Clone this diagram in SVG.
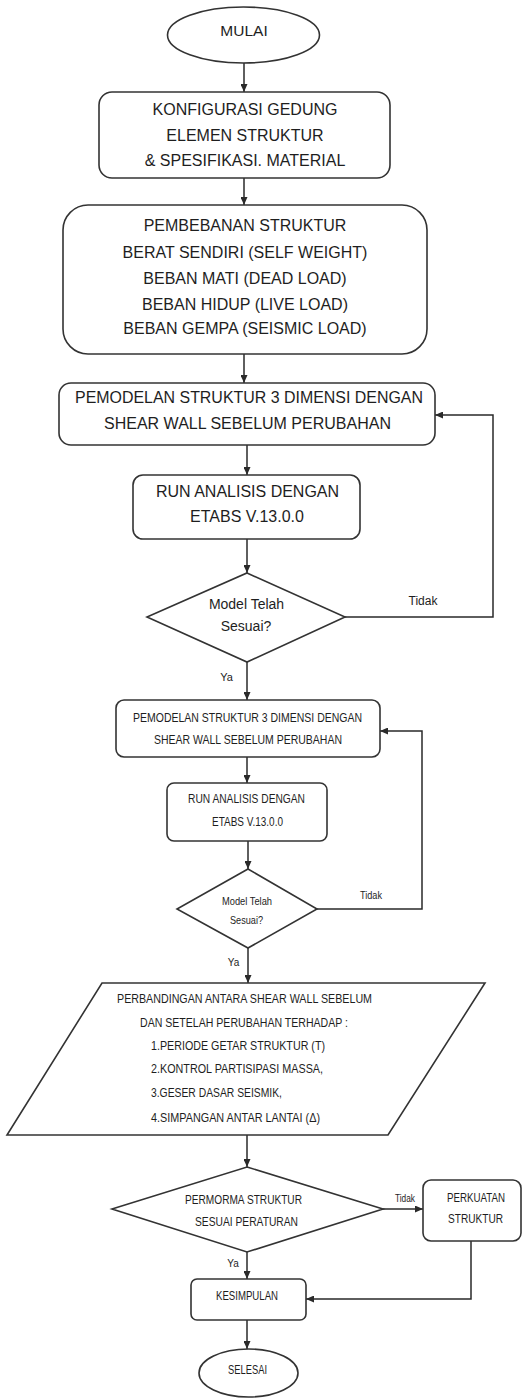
<svg xmlns="http://www.w3.org/2000/svg" width="523" height="1398" viewBox="0 0 523 1398">
<defs>
<marker id="arr" markerUnits="userSpaceOnUse" markerWidth="8" markerHeight="7" refX="8" refY="3.5" orient="auto"><path d="M0,0 L8,3.5 L0,7 z" fill="#2a2a2a"/></marker>
<style>
.sh{fill:#fff;stroke:#333;stroke-width:1.6}
.t{font-family:"Liberation Sans",Arial,sans-serif;fill:#1e1e1e;text-anchor:middle}
.tl{font-family:"Liberation Sans",Arial,sans-serif;fill:#1e1e1e;text-anchor:start}
.c{fill:none;stroke:#2a2a2a;stroke-width:1.5;marker-end:url(#arr)}
</style>
</defs>
<rect width="523" height="1398" fill="#fff"/>
<g id="connectors">
<path class="c" d="M244,63 V92"/>
<path class="c" d="M244,178 V205"/>
<path class="c" d="M244,354 V383"/>
<path class="c" d="M247,445 V475"/>
<path class="c" d="M247,539 V573"/>
<path class="c" d="M247,662 V700"/>
<path class="c" d="M345,617 H493 V415 H435"/>
<path class="c" d="M247,757 V783"/>
<path class="c" d="M248,841 V869"/>
<path class="c" d="M248,948 V983"/>
<path class="c" d="M317,909 H422 V731 H380"/>
<path class="c" d="M247,1135 V1167"/>
<path class="c" d="M383,1209 H423"/>
<path class="c" d="M247,1252 V1279"/>
<path class="c" d="M471,1241 V1299 H306"/>
<path class="c" d="M247,1320 V1349"/>
<text class="t" x="423" y="605" font-size="12">Tidak</text>
<text class="t" x="226.5" y="681" font-size="11">Ya</text>
<text class="t" x="371" y="899" font-size="10" textLength="22" lengthAdjust="spacingAndGlyphs">Tidak</text>
<text class="t" x="233.5" y="966" font-size="10">Ya</text>
<text class="t" x="405" y="1202" font-size="10" textLength="20" lengthAdjust="spacingAndGlyphs">Tidak</text>
<text class="t" x="233" y="1267" font-size="10">Ya</text>
</g>
<g id="mulai">
<ellipse class="sh" cx="243.5" cy="35" rx="76" ry="28"/>
<text class="t" x="244" y="36" font-size="15.5">MULAI</text>
</g>
<g id="konfigurasi">
<rect class="sh" x="99" y="92" width="291" height="86" rx="13"/>
<text class="t" x="245" y="115" font-size="16">KONFIGURASI GEDUNG</text>
<text class="t" x="245" y="141" font-size="16">ELEMEN STRUKTUR</text>
<text class="t" x="245" y="166" font-size="16">&amp; SPESIFIKASI. MATERIAL</text>
</g>
<g id="pembebanan">
<rect class="sh" x="63" y="205" width="364" height="149" rx="25"/>
<text class="t" x="245" y="231" font-size="16">PEMBEBANAN STRUKTUR</text>
<text class="t" x="245" y="258" font-size="16">BERAT SENDIRI (SELF WEIGHT)</text>
<text class="t" x="245" y="284" font-size="16">BEBAN MATI (DEAD LOAD)</text>
<text class="t" x="245" y="310" font-size="16">BEBAN HIDUP (LIVE LOAD)</text>
<text class="t" x="245" y="334" font-size="16">BEBAN GEMPA (SEISMIC LOAD)</text>
</g>
<g id="pemodelan1">
<rect class="sh" x="59" y="383" width="376" height="62" rx="12"/>
<text class="t" x="249" y="403" font-size="16" textLength="348" lengthAdjust="spacingAndGlyphs">PEMODELAN STRUKTUR 3 DIMENSI DENGAN</text>
<text class="t" x="247.5" y="429" font-size="16">SHEAR WALL SEBELUM PERUBAHAN</text>
</g>
<g id="run1">
<rect class="sh" x="133" y="475" width="227" height="64" rx="10"/>
<text class="t" x="247.5" y="496.5" font-size="16">RUN ANALISIS DENGAN</text>
<text class="t" x="247" y="522" font-size="16">ETABS V.13.0.0</text>
</g>
<g id="cek1">
<polygon class="sh" points="247,573 345,617 247,662 147,617"/>
<text class="t" x="246.5" y="609" font-size="14">Model Telah</text>
<text class="t" x="246" y="631" font-size="14">Sesuai?</text>
</g>
<g id="pemodelan2">
<rect class="sh" x="116" y="700" width="264" height="57" rx="8"/>
<text class="t" x="247.5" y="721.5" font-size="13" textLength="229" lengthAdjust="spacingAndGlyphs">PEMODELAN STRUKTUR 3 DIMENSI DENGAN</text>
<text class="t" x="248" y="743.5" font-size="13" textLength="188" lengthAdjust="spacingAndGlyphs">SHEAR WALL SEBELUM PERUBAHAN</text>
</g>
<g id="run2">
<rect class="sh" x="167" y="783" width="160" height="58" rx="7"/>
<text class="t" x="246.5" y="802.5" font-size="13" textLength="117" lengthAdjust="spacingAndGlyphs">RUN ANALISIS DENGAN</text>
<text class="t" x="247.5" y="825.5" font-size="13" textLength="71" lengthAdjust="spacingAndGlyphs">ETABS V.13.0.0</text>
</g>
<g id="cek2">
<polygon class="sh" points="248,869 317,909 248,948 177,909"/>
<text class="t" x="247" y="905" font-size="11" textLength="50" lengthAdjust="spacingAndGlyphs">Model Telah</text>
<text class="t" x="246.5" y="924" font-size="11" textLength="33" lengthAdjust="spacingAndGlyphs">Sesuai?</text>
</g>
<g id="perbandingan">
<polygon class="sh" points="102,983 485,983 388,1135 7,1135"/>
<text class="t" x="244.5" y="1002.5" font-size="13" textLength="255" lengthAdjust="spacingAndGlyphs">PERBANDINGAN  ANTARA SHEAR WALL SEBELUM</text>
<text class="t" x="244" y="1026.5" font-size="13" textLength="208" lengthAdjust="spacingAndGlyphs">DAN SETELAH PERUBAHAN TERHADAP :</text>
<text class="tl" x="151" y="1049.5" font-size="13" textLength="174" lengthAdjust="spacingAndGlyphs">1.PERIODE GETAR STRUKTUR (T)</text>
<text class="tl" x="151" y="1072.5" font-size="13" textLength="172" lengthAdjust="spacingAndGlyphs">2.KONTROL PARTISIPASI MASSA,</text>
<text class="tl" x="151" y="1096.5" font-size="13" textLength="131" lengthAdjust="spacingAndGlyphs">3.GESER DASAR SEISMIK,</text>
<text class="tl" x="151" y="1121.5" font-size="13" textLength="169" lengthAdjust="spacingAndGlyphs">4.SIMPANGAN ANTAR LANTAI (Δ)</text>
</g>
<g id="cek3">
<polygon class="sh" points="247,1167 383,1209 247,1252 112,1209"/>
<text class="t" x="243.5" y="1204" font-size="13" textLength="117" lengthAdjust="spacingAndGlyphs">PERMORMA STRUKTUR</text>
<text class="t" x="246.5" y="1225.5" font-size="13" textLength="103" lengthAdjust="spacingAndGlyphs">SESUAI PERATURAN</text>
</g>
<g id="perkuatan">
<rect class="sh" x="423" y="1180" width="98" height="61" rx="8"/>
<text class="t" x="476" y="1201.5" font-size="13" textLength="58" lengthAdjust="spacingAndGlyphs">PERKUATAN</text>
<text class="t" x="475.5" y="1222.5" font-size="13" textLength="55" lengthAdjust="spacingAndGlyphs">STRUKTUR</text>
</g>
<g id="kesimpulan">
<rect class="sh" x="191" y="1279" width="115" height="41" rx="6"/>
<text class="t" x="247" y="1299.5" font-size="13" textLength="62" lengthAdjust="spacingAndGlyphs">KESIMPULAN</text>
</g>
<g id="selesai">
<ellipse class="sh" cx="248.5" cy="1373" rx="49.5" ry="24"/>
<text class="t" x="247.5" y="1373.5" font-size="13" textLength="39" lengthAdjust="spacingAndGlyphs">SELESAI</text>
</g>
</svg>
